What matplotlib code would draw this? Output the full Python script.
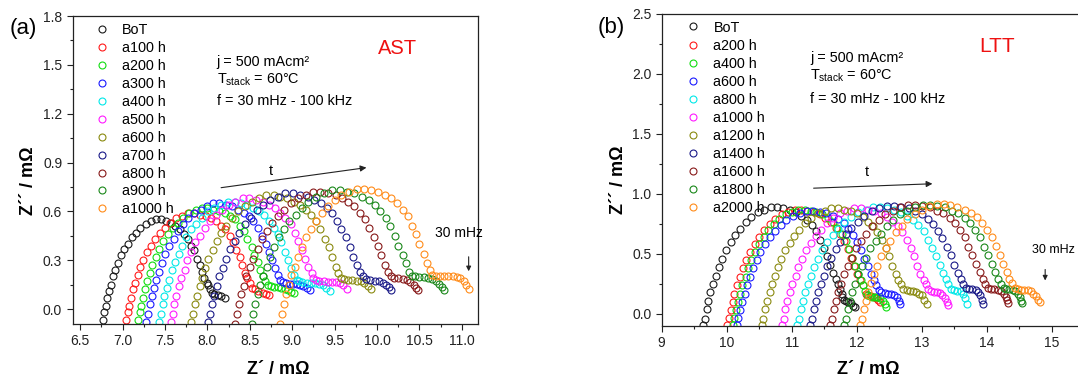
import matplotlib
matplotlib.use('Agg')
import matplotlib.pyplot as plt
from matplotlib.ticker import MultipleLocator, FormatStrFormatter

plt.rcParams['font.family'] = ['Liberation Sans', 'DejaVu Sans']
plt.rcParams['mathtext.fontset'] = 'custom'
plt.rcParams['mathtext.rm'] = 'Liberation Sans'

# ---------------- AST (accelerated stress test) Nyquist data, mOhm ----------------
ast_labels = ['BoT', 'a100 h', 'a200 h', 'a300 h', 'a400 h', 'a500 h',
              'a600 h', 'a700 h', 'a800 h', 'a900 h', 'a1000 h']

a_bot_x = [6.77, 6.78, 6.80, 6.82, 6.84, 6.86, 6.89, 6.91, 6.94, 6.98, 7.02, 7.06, 7.11, 7.16, 7.21, 7.27, 7.33,
           7.39, 7.45, 7.51, 7.57, 7.62, 7.67, 7.72, 7.77, 7.81, 7.84, 7.88, 7.91, 7.94, 7.96, 7.99, 8.01,
           8.03, 8.05, 8.08, 8.12, 8.16, 8.21]
a_bot_y = [-0.07, -0.02, 0.02, 0.07, 0.11, 0.15, 0.20, 0.24, 0.28, 0.33, 0.37, 0.40, 0.44, 0.47, 0.50, 0.52, 0.54,
           0.55, 0.55, 0.54, 0.53, 0.51, 0.49, 0.46, 0.43, 0.39, 0.36, 0.31, 0.27, 0.23, 0.19, 0.16, 0.15,
           0.12, 0.10, 0.09, 0.085, 0.08, 0.07]

a100_x = [7.04, 7.06, 7.07, 7.10, 7.12, 7.15, 7.18, 7.21, 7.24, 7.29, 7.33, 7.38, 7.44, 7.50, 7.56, 7.63, 7.70,
          7.77, 7.84, 7.91, 7.98, 8.04, 8.10, 8.16, 8.21, 8.26, 8.30, 8.34, 8.38, 8.41, 8.44, 8.47, 8.50,
          8.53, 8.56, 8.60, 8.65, 8.69, 8.73]
a100_y = [-0.07, -0.02, 0.02, 0.07, 0.12, 0.16, 0.21, 0.26, 0.30, 0.35, 0.39, 0.43, 0.47, 0.50, 0.53, 0.56, 0.57,
          0.59, 0.59, 0.58, 0.57, 0.56, 0.54, 0.51, 0.49, 0.45, 0.41, 0.36, 0.32, 0.27, 0.22, 0.19, 0.16,
          0.13, 0.12, 0.11, 0.10, 0.095, 0.085]

a200_x = [7.18, 7.20, 7.22, 7.24, 7.26, 7.29, 7.32, 7.35, 7.39, 7.43, 7.48, 7.53, 7.59, 7.65, 7.71, 7.78, 7.86,
          7.93, 8.00, 8.07, 8.14, 8.21, 8.27, 8.33, 8.38, 8.43, 8.47, 8.52, 8.55, 8.59, 8.62, 8.65, 8.68,
          8.71, 8.75, 8.79, 8.83, 8.87, 8.91, 8.95, 8.99, 9.02]
a200_y = [-0.07, -0.02, 0.02, 0.07, 0.12, 0.17, 0.22, 0.27, 0.32, 0.37, 0.42, 0.46, 0.50, 0.53, 0.56, 0.59, 0.61,
          0.62, 0.62, 0.61, 0.60, 0.59, 0.57, 0.55, 0.51, 0.48, 0.43, 0.38, 0.33, 0.29, 0.24, 0.20, 0.17,
          0.15, 0.14, 0.135, 0.135, 0.13, 0.125, 0.115, 0.105, 0.10]

a300_x = [7.28, 7.30, 7.32, 7.34, 7.37, 7.39, 7.43, 7.46, 7.50, 7.55, 7.60, 7.65, 7.71, 7.77, 7.84, 7.92, 7.99,
          8.07, 8.14, 8.22, 8.29, 8.36, 8.43, 8.49, 8.54, 8.60, 8.64, 8.69, 8.73, 8.76, 8.80, 8.83, 8.86,
          8.89, 8.93, 8.97, 9.01, 9.05, 9.09, 9.13, 9.17, 9.21]
a300_y = [-0.08, -0.03, 0.03, 0.08, 0.13, 0.18, 0.23, 0.28, 0.34, 0.39, 0.43, 0.48, 0.52, 0.56, 0.59, 0.61, 0.63,
          0.65, 0.65, 0.64, 0.63, 0.61, 0.59, 0.57, 0.54, 0.50, 0.45, 0.40, 0.35, 0.30, 0.25, 0.21, 0.18,
          0.165, 0.16, 0.155, 0.155, 0.155, 0.15, 0.14, 0.13, 0.115]

a400_x = [7.43, 7.45, 7.47, 7.49, 7.52, 7.55, 7.58, 7.62, 7.66, 7.70, 7.75, 7.81, 7.87, 7.94, 8.01, 8.08, 8.16,
          8.24, 8.32, 8.39, 8.47, 8.54, 8.61, 8.67, 8.73, 8.78, 8.83, 8.87, 8.91, 8.95, 8.99, 9.02, 9.05,
          9.08, 9.12, 9.17, 9.22, 9.27, 9.32, 9.36, 9.40, 9.44]
a400_y = [-0.08, -0.03, 0.03, 0.08, 0.13, 0.18, 0.24, 0.29, 0.34, 0.39, 0.44, 0.49, 0.52, 0.56, 0.60, 0.62, 0.64,
          0.66, 0.66, 0.65, 0.64, 0.62, 0.60, 0.58, 0.54, 0.50, 0.46, 0.41, 0.35, 0.30, 0.25, 0.21, 0.18,
          0.17, 0.165, 0.16, 0.158, 0.158, 0.155, 0.147, 0.13, 0.11]

a500_x = [7.57, 7.59, 7.61, 7.63, 7.66, 7.69, 7.73, 7.76, 7.81, 7.85, 7.91, 7.97, 8.03, 8.10, 8.17, 8.25, 8.33,
          8.42, 8.49, 8.57, 8.65, 8.73, 8.80, 8.86, 8.92, 8.98, 9.03, 9.07, 9.11, 9.15, 9.19, 9.23, 9.25,
          9.28, 9.32, 9.37, 9.42, 9.47, 9.52, 9.56, 9.60, 9.64]
a500_y = [-0.08, -0.03, 0.03, 0.08, 0.14, 0.19, 0.24, 0.30, 0.35, 0.41, 0.45, 0.50, 0.54, 0.58, 0.61, 0.64, 0.66,
          0.68, 0.68, 0.67, 0.66, 0.64, 0.62, 0.59, 0.56, 0.52, 0.47, 0.42, 0.36, 0.31, 0.26, 0.22, 0.19,
          0.18, 0.175, 0.17, 0.168, 0.168, 0.165, 0.16, 0.145, 0.12]

a600_x = [7.81, 7.83, 7.85, 7.88, 7.91, 7.94, 7.97, 8.01, 8.06, 8.11, 8.16, 8.22, 8.29, 8.36, 8.44, 8.52, 8.61,
          8.69, 8.78, 8.86, 8.94, 9.02, 9.09, 9.16, 9.22, 9.28, 9.33, 9.38, 9.43, 9.47, 9.51, 9.54, 9.57,
          9.61, 9.66, 9.71, 9.76, 9.81, 9.85, 9.89, 9.93]
a600_y = [-0.08, -0.03, 0.03, 0.08, 0.14, 0.19, 0.25, 0.31, 0.36, 0.42, 0.47, 0.51, 0.56, 0.60, 0.63, 0.66, 0.68,
          0.70, 0.70, 0.69, 0.68, 0.66, 0.64, 0.61, 0.58, 0.54, 0.49, 0.43, 0.38, 0.32, 0.26, 0.22, 0.19,
          0.185, 0.18, 0.178, 0.175, 0.17, 0.16, 0.14, 0.12]

a700_x = [8.01, 8.03, 8.05, 8.08, 8.11, 8.14, 8.18, 8.22, 8.27, 8.32, 8.37, 8.44, 8.51, 8.58, 8.66, 8.74, 8.83,
          8.92, 9.01, 9.09, 9.18, 9.26, 9.34, 9.41, 9.47, 9.53, 9.58, 9.63, 9.68, 9.72, 9.76, 9.80, 9.83,
          9.87, 9.92, 9.97, 10.02, 10.07, 10.11, 10.14, 10.17]
a700_y = [-0.08, -0.03, 0.03, 0.08, 0.14, 0.20, 0.25, 0.31, 0.37, 0.42, 0.47, 0.52, 0.56, 0.61, 0.64, 0.67, 0.69,
          0.71, 0.71, 0.70, 0.69, 0.67, 0.65, 0.62, 0.59, 0.54, 0.49, 0.44, 0.38, 0.32, 0.27, 0.23, 0.20,
          0.185, 0.178, 0.174, 0.17, 0.162, 0.15, 0.135, 0.115]

a800_x = [8.33, 8.35, 8.37, 8.40, 8.43, 8.46, 8.50, 8.54, 8.59, 8.64, 8.70, 8.76, 8.83, 8.90, 8.98, 9.07, 9.16,
          9.25, 9.33, 9.42, 9.51, 9.59, 9.66, 9.73, 9.80, 9.86, 9.91, 9.96, 10.01, 10.05, 10.09, 10.13, 10.16,
          10.20, 10.25, 10.30, 10.35, 10.39, 10.43, 10.46, 10.48]
a800_y = [-0.09, -0.03, 0.03, 0.09, 0.14, 0.20, 0.26, 0.31, 0.37, 0.43, 0.48, 0.53, 0.57, 0.61, 0.65, 0.68, 0.70,
          0.72, 0.72, 0.71, 0.70, 0.68, 0.66, 0.63, 0.59, 0.55, 0.50, 0.44, 0.39, 0.33, 0.27, 0.23, 0.20,
          0.19, 0.188, 0.183, 0.178, 0.165, 0.15, 0.13, 0.115]

a900_x = [8.52, 8.54, 8.56, 8.59, 8.62, 8.66, 8.70, 8.74, 8.79, 8.84, 8.90, 8.96, 9.04, 9.11, 9.19, 9.28, 9.37,
          9.47, 9.56, 9.64, 9.73, 9.82, 9.90, 9.97, 10.04, 10.10, 10.15, 10.21, 10.25, 10.30, 10.34, 10.38, 10.41,
          10.45, 10.50, 10.55, 10.60, 10.65, 10.69, 10.73, 10.76, 10.79]
a900_y = [-0.09, -0.03, 0.03, 0.09, 0.15, 0.20, 0.26, 0.32, 0.38, 0.44, 0.49, 0.54, 0.58, 0.62, 0.66, 0.69, 0.71,
          0.73, 0.73, 0.72, 0.71, 0.69, 0.67, 0.64, 0.60, 0.56, 0.51, 0.45, 0.39, 0.33, 0.28, 0.23, 0.20,
          0.20, 0.198, 0.195, 0.193, 0.185, 0.17, 0.155, 0.135, 0.115]

a1000_x = [8.86, 8.88, 8.90, 8.93, 8.96, 8.99, 9.03, 9.07, 9.11, 9.16, 9.22, 9.28, 9.35, 9.42, 9.50, 9.58, 9.67,
           9.76, 9.84, 9.93, 10.01, 10.09, 10.17, 10.23, 10.30, 10.36, 10.41, 10.46, 10.50, 10.55, 10.59, 10.62,
           10.65, 10.69, 10.74, 10.79, 10.84, 10.89, 10.94, 10.98, 11.02, 11.05, 11.08]
a1000_y = [-0.09, -0.03, 0.03, 0.09, 0.15, 0.21, 0.26, 0.32, 0.38, 0.44, 0.49, 0.54, 0.59, 0.63, 0.67, 0.70, 0.72,
           0.74, 0.74, 0.73, 0.72, 0.70, 0.68, 0.65, 0.61, 0.57, 0.51, 0.46, 0.40, 0.34, 0.28, 0.24,
           0.21, 0.205, 0.203, 0.202, 0.202, 0.202, 0.198, 0.19, 0.17, 0.145, 0.12]

# ---------------- LTT (long term test) Nyquist data, mOhm ----------------
ltt_labels = ['BoT', 'a200 h', 'a400 h', 'a600 h', 'a800 h', 'a1000 h',
              'a1200 h', 'a1400 h', 'a1600 h', 'a1800 h', 'a2000 h']

b_bot_x = [9.64, 9.66, 9.69, 9.72, 9.75, 9.79, 9.83, 9.88, 9.93, 9.99, 10.06, 10.13, 10.21, 10.29, 10.38, 10.48, 10.58,
           10.68, 10.78, 10.87, 10.97, 11.07, 11.15, 11.23, 11.31, 11.37, 11.44, 11.49, 11.55, 11.59, 11.64, 11.68, 11.72,
           11.75, 11.77, 11.78, 11.80, 11.83, 11.87, 11.91, 11.95, 11.98]
b_bot_y = [-0.09, -0.04, 0.04, 0.11, 0.18, 0.25, 0.32, 0.39, 0.46, 0.53, 0.60, 0.66, 0.71, 0.77, 0.81, 0.85, 0.87,
           0.89, 0.89, 0.88, 0.87, 0.85, 0.82, 0.78, 0.74, 0.69, 0.62, 0.55, 0.48, 0.41, 0.34, 0.29, 0.25,
           0.21, 0.17, 0.14, 0.12, 0.11, 0.10, 0.09, 0.07, 0.06]

b200_x = [10.01, 10.03, 10.06, 10.09, 10.12, 10.16, 10.20, 10.25, 10.30, 10.36, 10.43, 10.50, 10.58, 10.66, 10.75,
          10.85, 10.95, 11.05, 11.15, 11.24, 11.34, 11.44, 11.52, 11.60, 11.68, 11.74, 11.81, 11.86, 11.92, 11.96,
          12.01, 12.05, 12.09, 12.14, 12.18, 12.22, 12.26, 12.30, 12.33, 12.36]
b200_y = [-0.09, -0.03, 0.03, 0.10, 0.17, 0.24, 0.31, 0.38, 0.45, 0.52, 0.58, 0.64, 0.70, 0.75, 0.79, 0.83, 0.85,
          0.87, 0.87, 0.86, 0.85, 0.83, 0.80, 0.77, 0.72, 0.67, 0.61, 0.54, 0.47, 0.40, 0.33, 0.28, 0.24,
          0.17, 0.155, 0.15, 0.145, 0.13, 0.115, 0.10]

b400_x = [10.10, 10.12, 10.15, 10.18, 10.21, 10.24, 10.29, 10.33, 10.38, 10.44, 10.50, 10.57, 10.64, 10.73, 10.81,
          10.91, 11.00, 11.10, 11.20, 11.29, 11.38, 11.47, 11.56, 11.63, 11.70, 11.77, 11.83, 11.88, 11.93, 11.98,
          12.02, 12.07, 12.10, 12.13, 12.16, 12.20, 12.24, 12.28, 12.32, 12.36, 12.40, 12.43, 12.45]
b400_y = [-0.09, -0.03, 0.03, 0.10, 0.17, 0.24, 0.31, 0.38, 0.45, 0.52, 0.58, 0.64, 0.70, 0.75, 0.79, 0.83, 0.85,
          0.87, 0.87, 0.86, 0.85, 0.83, 0.80, 0.77, 0.72, 0.67, 0.61, 0.54, 0.47, 0.40, 0.33, 0.28, 0.24,
          0.19, 0.16, 0.15, 0.145, 0.14, 0.14, 0.13, 0.11, 0.08, 0.06]

b600_x = [10.16, 10.18, 10.21, 10.24, 10.28, 10.31, 10.36, 10.41, 10.46, 10.52, 10.59, 10.66, 10.74, 10.83, 10.92,
          11.02, 11.13, 11.23, 11.33, 11.43, 11.53, 11.63, 11.72, 11.80, 11.87, 11.94, 12.01, 12.07, 12.12, 12.17,
          12.22, 12.26, 12.30, 12.34, 12.38, 12.43, 12.48, 12.53, 12.58, 12.62, 12.65, 12.67]
b600_y = [-0.09, -0.03, 0.03, 0.10, 0.17, 0.24, 0.31, 0.38, 0.45, 0.52, 0.58, 0.64, 0.69, 0.74, 0.78, 0.82, 0.84,
          0.86, 0.86, 0.85, 0.84, 0.82, 0.79, 0.76, 0.71, 0.66, 0.60, 0.53, 0.46, 0.40, 0.33, 0.28, 0.24,
          0.20, 0.18, 0.172, 0.17, 0.17, 0.16, 0.14, 0.11, 0.08]

b800_x = [11.08, 11.11, 11.14, 11.17, 11.21, 11.25, 11.30, 11.35, 11.41, 11.47, 11.55, 11.63, 11.72, 11.81, 11.91,
          12.02, 12.14, 12.25, 12.36, 12.47, 12.58, 12.68, 12.78, 12.87, 12.95, 13.03, 13.10, 13.16, 13.22, 13.28,
          13.33, 13.37, 13.41, 13.45, 13.50, 13.55, 13.60, 13.64, 13.67, 13.69]
b800_y = [-0.09, -0.04, 0.04, 0.11, 0.18, 0.25, 0.32, 0.39, 0.46, 0.53, 0.60, 0.66, 0.71, 0.77, 0.81, 0.85, 0.87,
          0.89, 0.89, 0.88, 0.87, 0.85, 0.82, 0.78, 0.74, 0.69, 0.62, 0.55, 0.48, 0.41, 0.34, 0.29, 0.25,
          0.21, 0.20, 0.195, 0.19, 0.17, 0.13, 0.08]

b1000_x = [10.85, 10.88, 10.90, 10.93, 10.97, 11.01, 11.06, 11.10, 11.16, 11.22, 11.29, 11.37, 11.45, 11.54, 11.64,
           11.74, 11.85, 11.96, 12.07, 12.17, 12.27, 12.37, 12.46, 12.55, 12.63, 12.70, 12.77, 12.83, 12.88, 12.93,
           12.98, 13.03, 13.07, 13.10, 13.14, 13.19, 13.24, 13.28, 13.32, 13.36, 13.39, 13.41]
b1000_y = [-0.09, -0.04, 0.04, 0.11, 0.18, 0.25, 0.32, 0.39, 0.46, 0.53, 0.59, 0.65, 0.70, 0.76, 0.80, 0.84, 0.86,
           0.88, 0.88, 0.87, 0.86, 0.84, 0.81, 0.77, 0.73, 0.68, 0.62, 0.55, 0.48, 0.40, 0.33, 0.28, 0.25,
           0.21, 0.19, 0.186, 0.18, 0.175, 0.16, 0.13, 0.10, 0.075]

b1200_x = [10.54, 10.56, 10.59, 10.62, 10.66, 10.69, 10.74, 10.79, 10.84, 10.90, 10.97, 11.04, 11.12, 11.21, 11.30,
           11.40, 11.51, 11.61, 11.71, 11.81, 11.91, 12.01, 12.10, 12.18, 12.25, 12.32, 12.39, 12.45, 12.50, 12.55,
           12.60, 12.64, 12.68, 12.72, 12.77, 12.82, 12.87, 12.92, 12.96, 13.00, 13.04, 13.08]
b1200_y = [-0.09, -0.04, 0.04, 0.11, 0.18, 0.25, 0.32, 0.39, 0.46, 0.53, 0.59, 0.65, 0.70, 0.76, 0.80, 0.84, 0.86,
           0.88, 0.88, 0.87, 0.86, 0.84, 0.81, 0.77, 0.73, 0.68, 0.62, 0.55, 0.48, 0.40, 0.33, 0.28, 0.25,
           0.21, 0.20, 0.195, 0.19, 0.185, 0.17, 0.155, 0.12, 0.08]

b1400_x = [11.28, 11.31, 11.34, 11.37, 11.41, 11.45, 11.50, 11.55, 11.61, 11.68, 11.75, 11.83, 11.92, 12.02, 12.12,
           12.23, 12.35, 12.47, 12.58, 12.68, 12.80, 12.90, 13.00, 13.09, 13.18, 13.25, 13.32, 13.39, 13.45, 13.50,
           13.56, 13.60, 13.64, 13.68, 13.73, 13.78, 13.83, 13.87, 13.90, 13.93, 13.95]
b1400_y = [-0.09, -0.04, 0.04, 0.11, 0.18, 0.25, 0.32, 0.40, 0.47, 0.54, 0.60, 0.67, 0.72, 0.77, 0.82, 0.86, 0.88,
           0.90, 0.90, 0.89, 0.88, 0.86, 0.83, 0.79, 0.75, 0.69, 0.63, 0.56, 0.49, 0.41, 0.34, 0.29, 0.25,
           0.22, 0.21, 0.205, 0.20, 0.185, 0.16, 0.12, 0.08]

b1600_x = [11.59, 11.62, 11.65, 11.68, 11.72, 11.76, 11.81, 11.87, 11.93, 11.99, 12.07, 12.15, 12.24, 12.34, 12.44,
           12.56, 12.67, 12.79, 12.90, 13.01, 13.13, 13.23, 13.33, 13.43, 13.51, 13.59, 13.66, 13.72, 13.78, 13.84,
           13.89, 13.94, 13.98, 14.02, 14.07, 14.12, 14.17, 14.22, 14.26, 14.29, 14.31, 14.33]
b1600_y = [-0.09, -0.04, 0.04, 0.11, 0.18, 0.25, 0.33, 0.40, 0.47, 0.55, 0.61, 0.67, 0.73, 0.78, 0.83, 0.86, 0.89,
           0.91, 0.91, 0.90, 0.89, 0.86, 0.84, 0.80, 0.76, 0.70, 0.64, 0.56, 0.49, 0.42, 0.35, 0.29, 0.25,
           0.22, 0.21, 0.21, 0.20, 0.19, 0.17, 0.14, 0.12, 0.09]

b1800_x = [11.80, 11.83, 11.86, 11.89, 11.93, 11.98, 12.02, 12.08, 12.14, 12.21, 12.29, 12.37, 12.46, 12.56, 12.66,
           12.78, 12.90, 13.02, 13.13, 13.24, 13.36, 13.46, 13.56, 13.66, 13.74, 13.82, 13.89, 13.96, 14.02, 14.08,
           14.13, 14.18, 14.22, 14.26, 14.30, 14.35, 14.40, 14.44, 14.48, 14.51, 14.53, 14.54]
b1800_y = [-0.09, -0.04, 0.04, 0.11, 0.18, 0.25, 0.33, 0.40, 0.47, 0.55, 0.61, 0.67, 0.73, 0.78, 0.83, 0.86, 0.89,
           0.91, 0.91, 0.90, 0.89, 0.86, 0.84, 0.80, 0.76, 0.70, 0.64, 0.56, 0.49, 0.42, 0.35, 0.29, 0.25,
           0.22, 0.21, 0.205, 0.20, 0.19, 0.17, 0.14, 0.11, 0.09]

b2000_x = [12.05, 12.08, 12.11, 12.14, 12.18, 12.22, 12.27, 12.32, 12.38, 12.45, 12.52, 12.60, 12.69, 12.78, 12.89,
           13.00, 13.11, 13.23, 13.34, 13.44, 13.55, 13.66, 13.76, 13.85, 13.93, 14.01, 14.08, 14.14, 14.20, 14.25,
           14.31, 14.35, 14.39, 14.43, 14.48, 14.53, 14.58, 14.63, 14.68, 14.72, 14.76, 14.79, 14.82]
b2000_y = [-0.09, -0.04, 0.04, 0.11, 0.18, 0.26, 0.33, 0.40, 0.48, 0.55, 0.61, 0.68, 0.73, 0.79, 0.83, 0.87, 0.90,
           0.92, 0.92, 0.91, 0.89, 0.87, 0.84, 0.81, 0.76, 0.70, 0.64, 0.57, 0.49, 0.42, 0.35, 0.29, 0.26,
           0.22, 0.205, 0.20, 0.20, 0.20, 0.19, 0.17, 0.15, 0.12, 0.10]

ast_x = [a_bot_x, a100_x, a200_x, a300_x, a400_x, a500_x, a600_x, a700_x, a800_x, a900_x, a1000_x]
ast_y = [a_bot_y, a100_y, a200_y, a300_y, a400_y, a500_y, a600_y, a700_y, a800_y, a900_y, a1000_y]
ltt_x = [b_bot_x, b200_x, b400_x, b600_x, b800_x, b1000_x, b1200_x, b1400_x, b1600_x, b1800_x, b2000_x]
ltt_y = [b_bot_y, b200_y, b400_y, b600_y, b800_y, b1000_y, b1200_y, b1400_y, b1600_y, b1800_y, b2000_y]

# Origin-like colour order
colors = ['#1a1a1a', '#ff1a1a', '#11dd11', '#1a1aff', '#00e8e8', '#ff1aff',
          '#8a8a10', '#1a1a88', '#881a1a', '#1a881a', '#ff8c1a']

fig = plt.figure(figsize=(10.78, 3.81), dpi=100)
fig.set_facecolor('white')
ax1 = fig.add_axes([0.0674, 0.1496, 0.376, 0.8084])
ax2 = fig.add_axes([0.6138, 0.1444, 0.3871, 0.8189])


def nyquist(ax, xs, ys, labels):
    for x, y, c, l in zip(xs, ys, colors, labels):
        ax.plot(x, y, linestyle='none', marker='o', ms=5, mfc='none', mec=c,
                mew=0.8, label=l)
    for s in ax.spines.values():
        s.set_linewidth(0.9)
        s.set_color('#222222')
    ax.tick_params(which='both', direction='out', top=False, right=False,
                   labelsize=10, colors='#222222', width=0.8)
    ax.tick_params(which='major', length=4)
    ax.tick_params(which='minor', length=2.5)
    ax.set_xlabel('Z´ / mΩ', fontsize=13, fontweight='bold', va='center')
    ax.set_ylabel('Z´´ / mΩ', fontsize=13, fontweight='bold', va='center')


# (a) AST
nyquist(ax1, ast_x, ast_y, ast_labels)
ax1.set_xlim(6.41, 11.19)
ax1.set_ylim(-0.092, 1.8)
ax1.xaxis.set_major_locator(MultipleLocator(0.5))
ax1.xaxis.set_minor_locator(MultipleLocator(0.25))
ax1.yaxis.set_major_locator(MultipleLocator(0.3))
ax1.yaxis.set_minor_locator(MultipleLocator(0.15))
ax1.xaxis.set_major_formatter(FormatStrFormatter('%.1f'))
ax1.yaxis.set_major_formatter(FormatStrFormatter('%.1f'))
ax1.xaxis.set_label_coords(0.507, -0.148)
ax1.yaxis.set_label_coords(-0.108, 0.466)
leg = ax1.legend(loc='upper left', bbox_to_anchor=(0.0545, 0.976), frameon=False,
                 fontsize=10.4, numpoints=1, handlelength=1.0, handletextpad=0.9,
                 labelspacing=0.27, borderpad=0, borderaxespad=0)
leg.set_zorder(1)
ax1.text(0.355, 0.851, 'j = 500 mAcm²', transform=ax1.transAxes, fontsize=10.4, va='center')
ax1.text(0.355, 0.7935, r'T$_{\mathregular{stack}}$ = 60°C', transform=ax1.transAxes, fontsize=10.4, va='center')
ax1.text(0.355, 0.724, 'f = 30 mHz - 100 kHz', transform=ax1.transAxes, fontsize=10.4, va='center')
ax1.text(0.802, 0.894, 'AST', transform=ax1.transAxes, fontsize=14.5, color='#ee1111',
         ha='center', va='center')
ax1.annotate('', xy=(9.907, 0.871), xytext=(8.128, 0.743),
             arrowprops=dict(arrowstyle='-|>', color='#222222', lw=0.8, mutation_scale=9))
ax1.text(8.752, 0.85, 't', fontsize=10.4, ha='center', va='center')
ax1.text(10.96, 0.47, '30 mHz', fontsize=10, ha='center', va='center')
ax1.annotate('', xy=(11.08, 0.215), xytext=(11.08, 0.338),
             arrowprops=dict(arrowstyle='-|>', color='#222222', lw=0.8, mutation_scale=7))

# (b) LTT
nyquist(ax2, ltt_x, ltt_y, ltt_labels)
ax2.set_xlim(9, 15.42)
ax2.set_ylim(-0.1, 2.5)
ax2.xaxis.set_major_locator(MultipleLocator(1))
ax2.xaxis.set_minor_locator(MultipleLocator(0.5))
ax2.yaxis.set_major_locator(MultipleLocator(0.5))
ax2.yaxis.set_minor_locator(MultipleLocator(0.25))
ax2.xaxis.set_major_formatter(FormatStrFormatter('%d'))
ax2.yaxis.set_major_formatter(FormatStrFormatter('%.1f'))
ax2.xaxis.set_label_coords(0.494, -0.141)
ax2.yaxis.set_label_coords(-0.1035, 0.468)
leg = ax2.legend(loc='upper left', bbox_to_anchor=(0.0566, 0.979), frameon=False,
                 fontsize=10.4, numpoints=1, handlelength=1.0, handletextpad=0.95,
                 labelspacing=0.28, borderpad=0, borderaxespad=0)
leg.set_zorder(1)
ax2.text(0.355, 0.86, 'j = 500 mAcm²', transform=ax2.transAxes, fontsize=10.4, va='center')
ax2.text(0.355, 0.801, r'T$_{\mathregular{stack}}$ = 60°C', transform=ax2.transAxes, fontsize=10.4, va='center')
ax2.text(0.355, 0.727, 'f = 30 mHz - 100 kHz', transform=ax2.transAxes, fontsize=10.4, va='center')
ax2.text(0.8035, 0.895, 'LTT', transform=ax2.transAxes, fontsize=15, color='#ee1111',
         ha='center', va='center')
ax2.annotate('', xy=(13.208, 1.086), xytext=(11.295, 1.0475),
             arrowprops=dict(arrowstyle='-|>', color='#222222', lw=0.8, mutation_scale=9))
ax2.text(12.158, 1.18, 't', fontsize=10.4, ha='center', va='center')
ax2.text(14.70, 0.533, '30 mHz', fontsize=9, ha='left', va='center', clip_on=False)
ax2.annotate('', xy=(14.90, 0.256), xytext=(14.90, 0.394),
             arrowprops=dict(arrowstyle='-|>', color='#222222', lw=0.8, mutation_scale=7))

fig.text(0.0213, 0.924, '(a)', fontsize=16, ha='center', va='center')
fig.text(0.5668, 0.928, '(b)', fontsize=16, ha='center', va='center')

plt.savefig('out.png', dpi=100)
